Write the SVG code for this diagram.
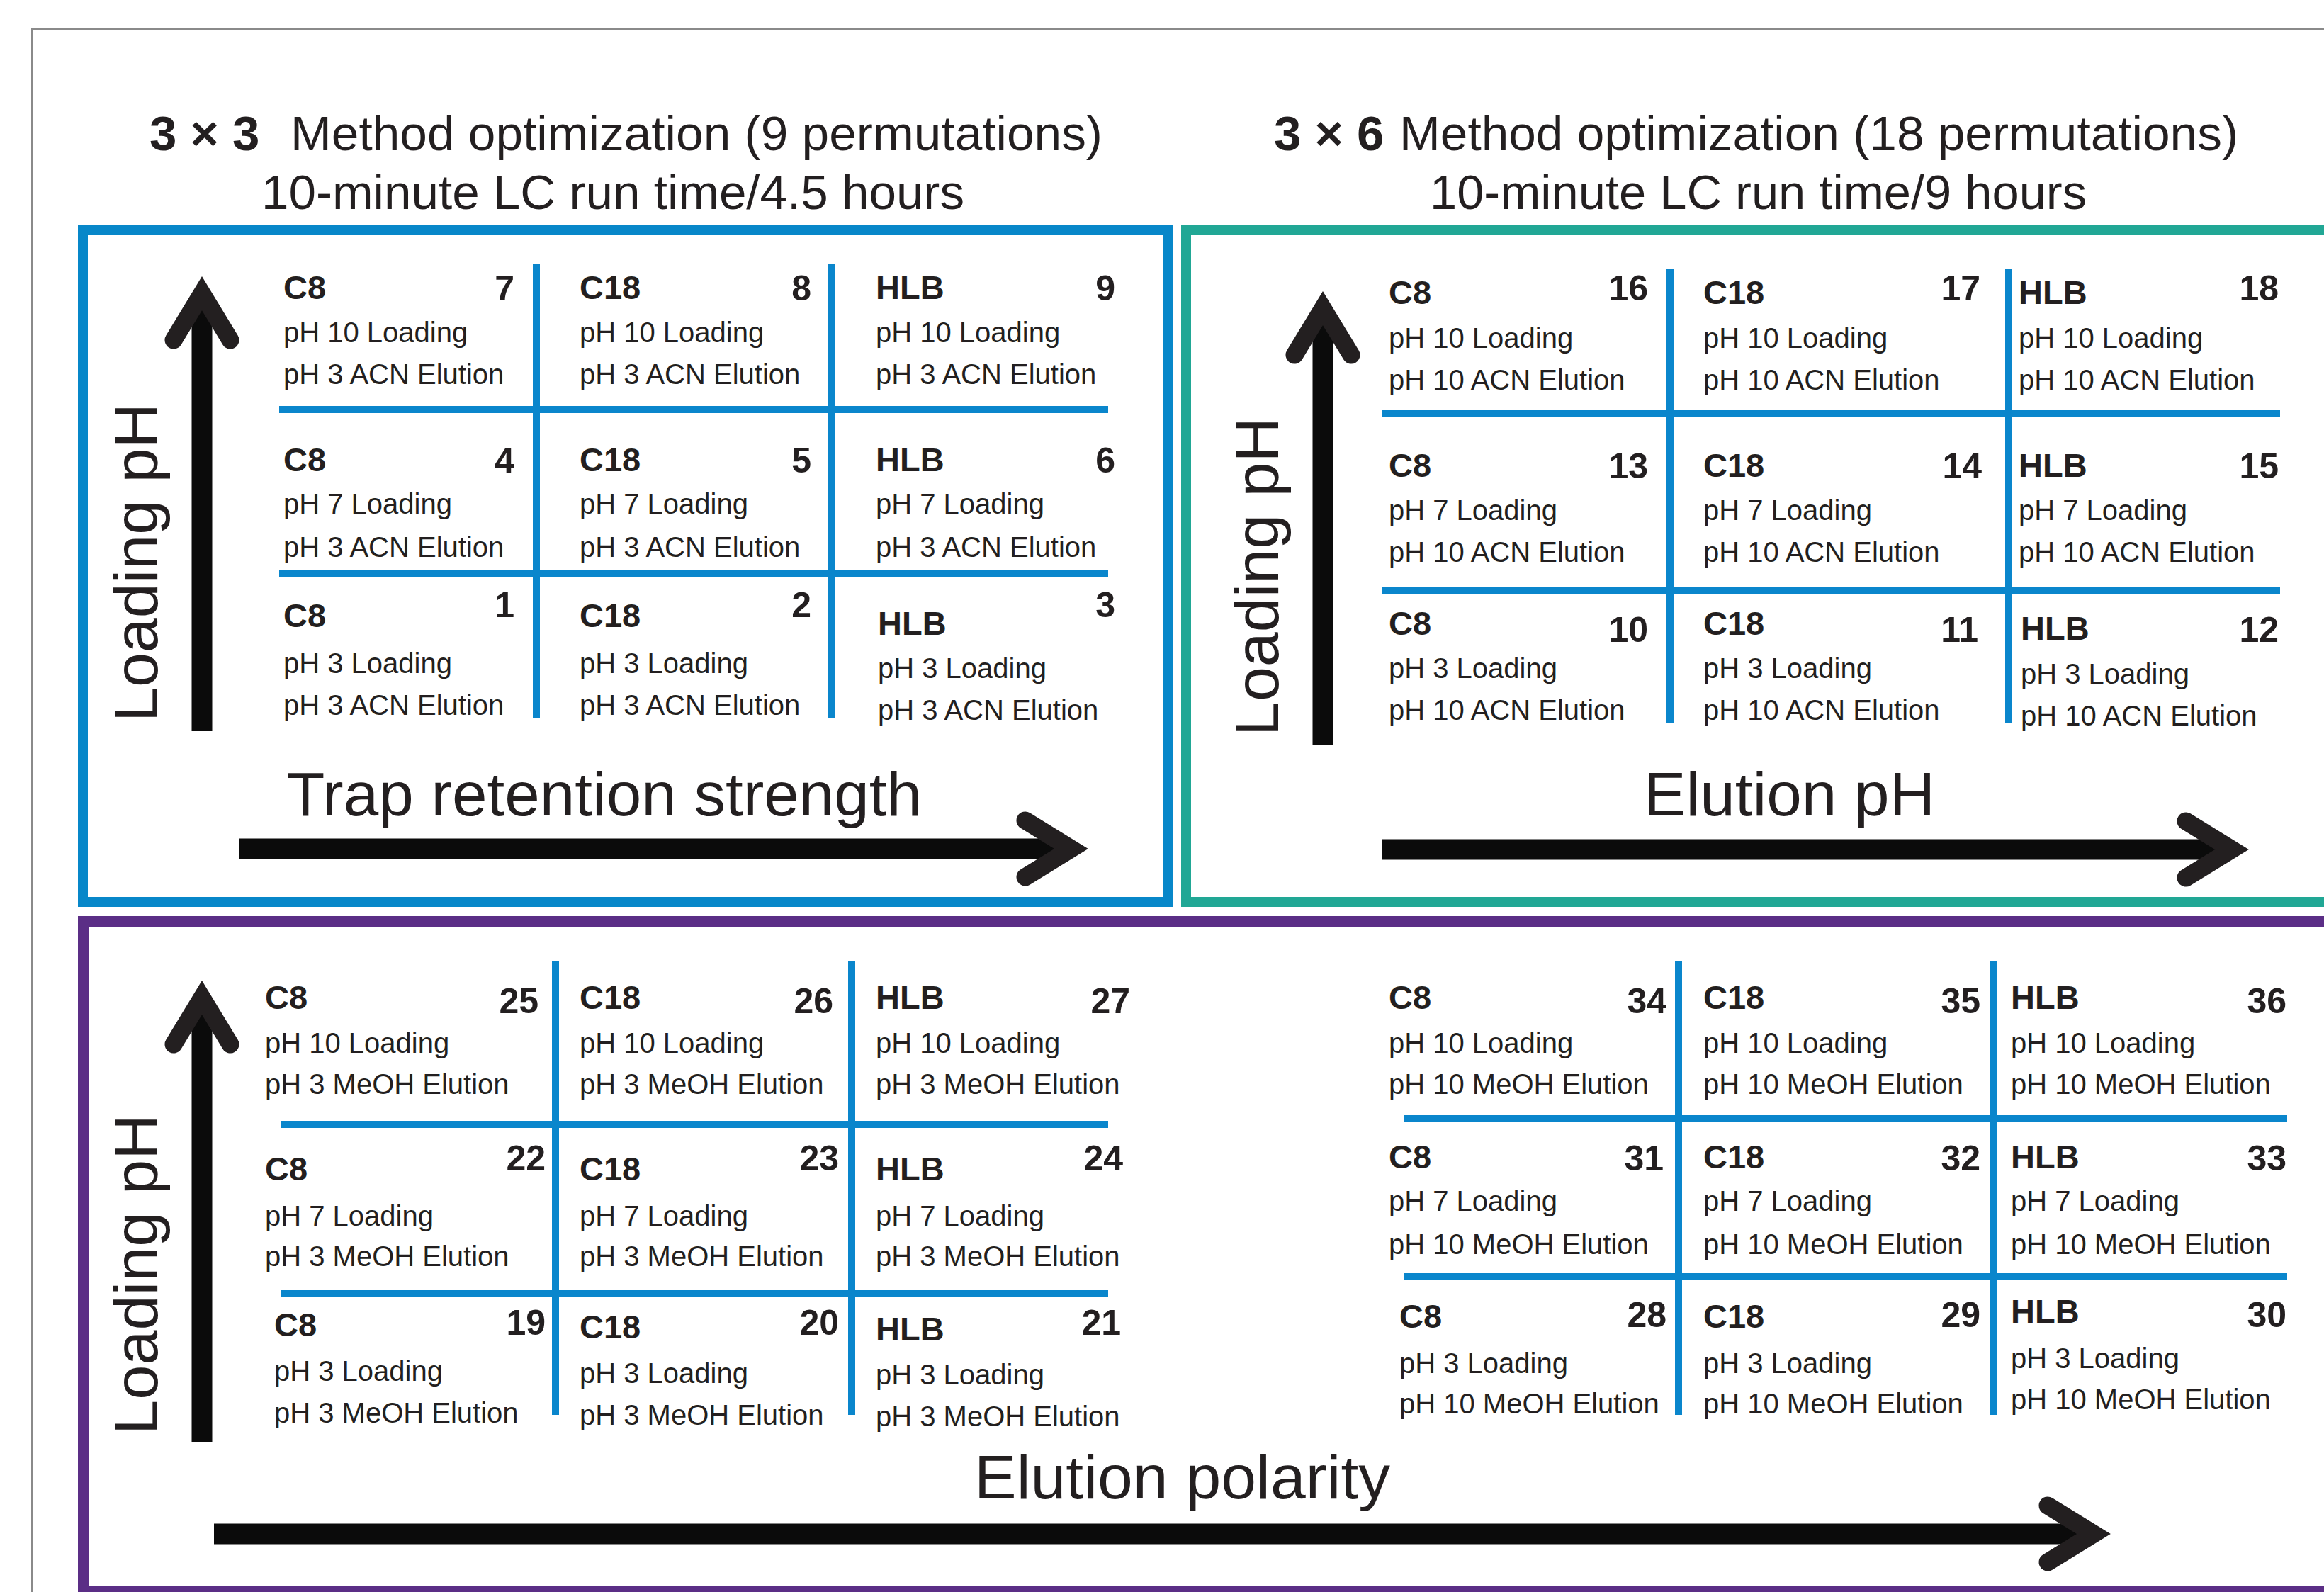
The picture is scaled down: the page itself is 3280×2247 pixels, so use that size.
<svg xmlns="http://www.w3.org/2000/svg" width="3280" height="2247" viewBox="0 0 3280 2247">
<style>
.t{font-family:"Liberation Sans",Arial,Helvetica,sans-serif;fill:#231f20}
.b{font-size:40px}
.h{font-size:47px;font-weight:bold}
.n{font-size:50px;font-weight:bold;text-anchor:end}
.ti{font-size:69px}
.tb{font-size:69px;font-weight:bold}
.ax{font-size:88px}
.grid line{stroke:#0a86cc;stroke-width:10}
.shaft{stroke:#0b0b0b;stroke-width:29}
.head{fill:none;stroke:#231f20;stroke-width:25;stroke-linecap:round;stroke-linejoin:miter}
</style>
<rect x="0" y="0" width="3280" height="2247" fill="#ffffff"/>
<path d="M45.5,2247 V40.5 H3280" fill="none" stroke="#8a8a8a" stroke-width="3"/>
<g id="frames">
<rect id="frame-3x3" x="117" y="325" width="1531" height="948" fill="none" stroke="#0787c9" stroke-width="14"/>
<rect id="frame-3x6" x="1674" y="325" width="1700" height="948" fill="none" stroke="#21a795" stroke-width="14"/>
<rect id="frame-meoh" x="118" y="1301" width="3300" height="946" fill="none" stroke="#5b2e86" stroke-width="16"/>
</g>
<g id="titles">
<text class="t tb" x="211" y="212">3 × 3</text>
<text class="t ti" x="410" y="212" textLength="1146" lengthAdjust="spacingAndGlyphs">Method optimization (9 permutations)</text>
<text class="t ti" x="369" y="295" textLength="992" lengthAdjust="spacingAndGlyphs">10-minute LC run time/4.5 hours</text>
<text class="t tb" x="1798" y="212">3 × 6</text>
<text class="t ti" x="1975" y="212" textLength="1184" lengthAdjust="spacingAndGlyphs">Method optimization (18 permutations)</text>
<text class="t ti" x="2018" y="295" textLength="927" lengthAdjust="spacingAndGlyphs">10-minute LC run time/9 hours</text>
</g>
<g id="axis-labels">
<text class="t ax" transform="translate(222,1019) rotate(-90)" textLength="450" lengthAdjust="spacingAndGlyphs">Loading pH</text>
<text class="t ax" transform="translate(1804,1039) rotate(-90)" textLength="450" lengthAdjust="spacingAndGlyphs">Loading pH</text>
<text class="t ax" transform="translate(222,2025) rotate(-90)" textLength="452" lengthAdjust="spacingAndGlyphs">Loading pH</text>
<text class="t ax" x="404" y="1151" textLength="897" lengthAdjust="spacingAndGlyphs">Trap retention strength</text>
<text class="t ax" x="2320" y="1151" textLength="411" lengthAdjust="spacingAndGlyphs">Elution pH</text>
<text class="t ax" x="1375" y="2115" textLength="587" lengthAdjust="spacingAndGlyphs">Elution polarity</text>
</g>
<g id="connectors">
<line class="shaft" x1="285" y1="1032" x2="285" y2="429"/>
<polyline class="head" points="245,480 285,414 325,480"/>
<line class="shaft" x1="338" y1="1198" x2="1497" y2="1198"/>
<polyline class="head" points="1447,1158 1512,1198 1447,1238"/>
<line class="shaft" x1="1867" y1="1052" x2="1867" y2="450"/>
<polyline class="head" points="1827,501 1867,435 1907,501"/>
<line class="shaft" x1="1951" y1="1199" x2="3135" y2="1199"/>
<polyline class="head" points="3085,1159 3150,1199 3085,1239"/>
<line class="shaft" x1="285" y1="2035" x2="285" y2="1423"/>
<polyline class="head" points="245,1474 285,1408 325,1474"/>
<line class="shaft" x1="302" y1="2165" x2="2940" y2="2165"/>
<polyline class="head" points="2890,2125 2955,2165 2890,2205"/>
</g>
<g id="grid-lines" class="grid">
<line x1="757" y1="372" x2="757" y2="1014"/>
<line x1="1174" y1="372" x2="1174" y2="1014"/>
<line x1="394" y1="578" x2="1564" y2="578"/>
<line x1="394" y1="810" x2="1564" y2="810"/>
<line x1="2357" y1="380" x2="2357" y2="1021"/>
<line x1="2835" y1="380" x2="2835" y2="1021"/>
<line x1="1951" y1="584" x2="3218" y2="584"/>
<line x1="1951" y1="833" x2="3218" y2="833"/>
<line x1="784" y1="1357" x2="784" y2="1997"/>
<line x1="1202" y1="1357" x2="1202" y2="1997"/>
<line x1="396" y1="1587" x2="1564" y2="1587"/>
<line x1="396" y1="1826" x2="1564" y2="1826"/>
<line x1="2369" y1="1357" x2="2369" y2="1997"/>
<line x1="2814" y1="1357" x2="2814" y2="1997"/>
<line x1="1981" y1="1579" x2="3228" y2="1579"/>
<line x1="1981" y1="1802" x2="3228" y2="1802"/>
</g>
<g id="cell-7"><text class="t h" x="400" y="422">C8</text><text class="t n" x="726" y="424">7</text><text class="t b" x="400" y="483">pH 10 Loading</text><text class="t b" x="400" y="542">pH 3 ACN Elution</text></g>
<g id="cell-8"><text class="t h" x="818" y="422">C18</text><text class="t n" x="1145" y="424">8</text><text class="t b" x="818" y="483">pH 10 Loading</text><text class="t b" x="818" y="542">pH 3 ACN Elution</text></g>
<g id="cell-9"><text class="t h" x="1236" y="422">HLB</text><text class="t n" x="1574" y="424">9</text><text class="t b" x="1236" y="483">pH 10 Loading</text><text class="t b" x="1236" y="542">pH 3 ACN Elution</text></g>
<g id="cell-4"><text class="t h" x="400" y="665">C8</text><text class="t n" x="726" y="667">4</text><text class="t b" x="400" y="725">pH 7 Loading</text><text class="t b" x="400" y="786">pH 3 ACN Elution</text></g>
<g id="cell-5"><text class="t h" x="818" y="665">C18</text><text class="t n" x="1145" y="667">5</text><text class="t b" x="818" y="725">pH 7 Loading</text><text class="t b" x="818" y="786">pH 3 ACN Elution</text></g>
<g id="cell-6"><text class="t h" x="1236" y="665">HLB</text><text class="t n" x="1574" y="667">6</text><text class="t b" x="1236" y="725">pH 7 Loading</text><text class="t b" x="1236" y="786">pH 3 ACN Elution</text></g>
<g id="cell-1"><text class="t h" x="400" y="885">C8</text><text class="t n" x="726" y="871">1</text><text class="t b" x="400" y="950">pH 3 Loading</text><text class="t b" x="400" y="1009">pH 3 ACN Elution</text></g>
<g id="cell-2"><text class="t h" x="818" y="885">C18</text><text class="t n" x="1145" y="871">2</text><text class="t b" x="818" y="950">pH 3 Loading</text><text class="t b" x="818" y="1009">pH 3 ACN Elution</text></g>
<g id="cell-3"><text class="t h" x="1239" y="896">HLB</text><text class="t n" x="1574" y="871">3</text><text class="t b" x="1239" y="957">pH 3 Loading</text><text class="t b" x="1239" y="1016">pH 3 ACN Elution</text></g>
<g id="cell-16"><text class="t h" x="1960" y="429">C8</text><text class="t n" x="2326" y="424">16</text><text class="t b" x="1960" y="491">pH 10 Loading</text><text class="t b" x="1960" y="550">pH 10 ACN Elution</text></g>
<g id="cell-17"><text class="t h" x="2404" y="429">C18</text><text class="t n" x="2795" y="424">17</text><text class="t b" x="2404" y="491">pH 10 Loading</text><text class="t b" x="2404" y="550">pH 10 ACN Elution</text></g>
<g id="cell-18"><text class="t h" x="2849" y="429">HLB</text><text class="t n" x="3216" y="424">18</text><text class="t b" x="2849" y="491">pH 10 Loading</text><text class="t b" x="2849" y="550">pH 10 ACN Elution</text></g>
<g id="cell-13"><text class="t h" x="1960" y="673">C8</text><text class="t n" x="2326" y="675">13</text><text class="t b" x="1960" y="734">pH 7 Loading</text><text class="t b" x="1960" y="793">pH 10 ACN Elution</text></g>
<g id="cell-14"><text class="t h" x="2404" y="673">C18</text><text class="t n" x="2797" y="675">14</text><text class="t b" x="2404" y="734">pH 7 Loading</text><text class="t b" x="2404" y="793">pH 10 ACN Elution</text></g>
<g id="cell-15"><text class="t h" x="2849" y="673">HLB</text><text class="t n" x="3216" y="675">15</text><text class="t b" x="2849" y="734">pH 7 Loading</text><text class="t b" x="2849" y="793">pH 10 ACN Elution</text></g>
<g id="cell-10"><text class="t h" x="1960" y="896">C8</text><text class="t n" x="2326" y="906">10</text><text class="t b" x="1960" y="957">pH 3 Loading</text><text class="t b" x="1960" y="1016">pH 10 ACN Elution</text></g>
<g id="cell-11"><text class="t h" x="2404" y="896">C18</text><text class="t n" x="2792" y="906">11</text><text class="t b" x="2404" y="957">pH 3 Loading</text><text class="t b" x="2404" y="1016">pH 10 ACN Elution</text></g>
<g id="cell-12"><text class="t h" x="2852" y="903">HLB</text><text class="t n" x="3216" y="906">12</text><text class="t b" x="2852" y="965">pH 3 Loading</text><text class="t b" x="2852" y="1024">pH 10 ACN Elution</text></g>
<g id="cell-25"><text class="t h" x="374" y="1424">C8</text><text class="t n" x="760" y="1430">25</text><text class="t b" x="374" y="1486">pH 10 Loading</text><text class="t b" x="374" y="1544">pH 3 MeOH Elution</text></g>
<g id="cell-26"><text class="t h" x="818" y="1424">C18</text><text class="t n" x="1176" y="1430">26</text><text class="t b" x="818" y="1486">pH 10 Loading</text><text class="t b" x="818" y="1544">pH 3 MeOH Elution</text></g>
<g id="cell-27"><text class="t h" x="1236" y="1424">HLB</text><text class="t n" x="1595" y="1430">27</text><text class="t b" x="1236" y="1486">pH 10 Loading</text><text class="t b" x="1236" y="1544">pH 3 MeOH Elution</text></g>
<g id="cell-22"><text class="t h" x="374" y="1666">C8</text><text class="t n" x="770" y="1652">22</text><text class="t b" x="374" y="1730">pH 7 Loading</text><text class="t b" x="374" y="1787">pH 3 MeOH Elution</text></g>
<g id="cell-23"><text class="t h" x="818" y="1666">C18</text><text class="t n" x="1184" y="1652">23</text><text class="t b" x="818" y="1730">pH 7 Loading</text><text class="t b" x="818" y="1787">pH 3 MeOH Elution</text></g>
<g id="cell-24"><text class="t h" x="1236" y="1666">HLB</text><text class="t n" x="1585" y="1652">24</text><text class="t b" x="1236" y="1730">pH 7 Loading</text><text class="t b" x="1236" y="1787">pH 3 MeOH Elution</text></g>
<g id="cell-19"><text class="t h" x="387" y="1886">C8</text><text class="t n" x="770" y="1884">19</text><text class="t b" x="387" y="1949">pH 3 Loading</text><text class="t b" x="387" y="2008">pH 3 MeOH Elution</text></g>
<g id="cell-20"><text class="t h" x="818" y="1889">C18</text><text class="t n" x="1184" y="1884">20</text><text class="t b" x="818" y="1952">pH 3 Loading</text><text class="t b" x="818" y="2011">pH 3 MeOH Elution</text></g>
<g id="cell-21"><text class="t h" x="1236" y="1892">HLB</text><text class="t n" x="1582" y="1884">21</text><text class="t b" x="1236" y="1954">pH 3 Loading</text><text class="t b" x="1236" y="2013">pH 3 MeOH Elution</text></g>
<g id="cell-34"><text class="t h" x="1960" y="1424">C8</text><text class="t n" x="2352" y="1430">34</text><text class="t b" x="1960" y="1486">pH 10 Loading</text><text class="t b" x="1960" y="1544">pH 10 MeOH Elution</text></g>
<g id="cell-35"><text class="t h" x="2404" y="1424">C18</text><text class="t n" x="2795" y="1430">35</text><text class="t b" x="2404" y="1486">pH 10 Loading</text><text class="t b" x="2404" y="1544">pH 10 MeOH Elution</text></g>
<g id="cell-36"><text class="t h" x="2838" y="1424">HLB</text><text class="t n" x="3227" y="1430">36</text><text class="t b" x="2838" y="1486">pH 10 Loading</text><text class="t b" x="2838" y="1544">pH 10 MeOH Elution</text></g>
<g id="cell-31"><text class="t h" x="1960" y="1649">C8</text><text class="t n" x="2348" y="1652">31</text><text class="t b" x="1960" y="1709">pH 7 Loading</text><text class="t b" x="1960" y="1770">pH 10 MeOH Elution</text></g>
<g id="cell-32"><text class="t h" x="2404" y="1649">C18</text><text class="t n" x="2795" y="1652">32</text><text class="t b" x="2404" y="1709">pH 7 Loading</text><text class="t b" x="2404" y="1770">pH 10 MeOH Elution</text></g>
<g id="cell-33"><text class="t h" x="2838" y="1649">HLB</text><text class="t n" x="3227" y="1652">33</text><text class="t b" x="2838" y="1709">pH 7 Loading</text><text class="t b" x="2838" y="1770">pH 10 MeOH Elution</text></g>
<g id="cell-28"><text class="t h" x="1975" y="1874">C8</text><text class="t n" x="2352" y="1873">28</text><text class="t b" x="1975" y="1938">pH 3 Loading</text><text class="t b" x="1975" y="1995">pH 10 MeOH Elution</text></g>
<g id="cell-29"><text class="t h" x="2404" y="1874">C18</text><text class="t n" x="2795" y="1873">29</text><text class="t b" x="2404" y="1938">pH 3 Loading</text><text class="t b" x="2404" y="1995">pH 10 MeOH Elution</text></g>
<g id="cell-30"><text class="t h" x="2838" y="1867">HLB</text><text class="t n" x="3227" y="1873">30</text><text class="t b" x="2838" y="1931">pH 3 Loading</text><text class="t b" x="2838" y="1989">pH 10 MeOH Elution</text></g>
</svg>
